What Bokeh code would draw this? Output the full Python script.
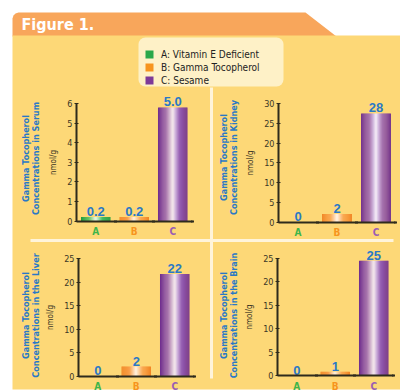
import numpy as np
from bokeh.plotting import figure
from bokeh.models import Range1d, LinearAxis, FixedTicker, ColumnDataSource, Legend, LegendItem
from bokeh.core.properties import value
from bokeh.embed import file_html
from bokeh.resources import INLINE

# ---------------- data ----------------
categories = ["A", "B", "C"]
legend_labels = ["A: Vitamin E Deficient", "B: Gamma Tocopherol", "C: Sesame"]

serum_values = [0.2, 0.2, 5.8]
serum_labels = ["0.2", "0.2", "5.0"]
serum_ticks = [0, 1, 2, 3, 4, 5, 6]

kidney_values = [0, 2, 27.5]
kidney_labels = ["0", "2", "28"]
kidney_ticks = [0, 5, 10, 15, 20, 25, 30]

liver_values = [0, 2, 21.7]
liver_labels = ["0", "2", "22"]
liver_ticks = [0, 5, 10, 15, 20, 25]

brain_values = [0, 0.8, 24.5]
brain_labels = ["0", "1", "25"]
brain_ticks = [0, 5, 10, 15, 20, 25]

title_line1 = "Gamma Tocopherol"
serum_title = "Concentrations in Serum"
kidney_title = "Concentrations in Kidney"
liver_title = "Concentrations in the Liver"
brain_title = "Concentrations in the Brain"
unit_label = "nmol/g"
figure_title = "Figure 1."

# ---------------- styles ----------------
W, H = 400, 391
NARROW = "'Liberation Sans Narrow', 'DejaVu Sans Condensed', 'Roboto Condensed', sans-serif"
SANS = "'Liberation Sans', Arial, sans-serif"
YELLOW = "#FDD877"
ORANGE_TAB = "#F8A65B"
LEGEND_BG = "#FEF1C7"
DIVIDER = "#FFF4DA"
BLUE = "#2A78C6"
AXIS = "#2E2B1C"
cat_colors = ["#2BA84A", "#F7941D", "#7E3A98"]
label_colors = ["#3DB54A", "#F7941D", "#9A5DB5"]
edge_colors = ["#1E9A3E", "#F28422", "#6E2C8C"]
mid_colors = ["#4CBF62", "#F9A24A", "#9A64B6"]
center_colors = ["#F0FAEE", "#FFF4E6", "#F6EEF8"]


def hex2rgb(h):
    h = h.lstrip("#")
    return np.array([int(h[i:i + 2], 16) for i in (0, 2, 4)], dtype=float)


def rgb2hex(c):
    c = np.clip(np.round(c), 0, 255).astype(int)
    return "#%02x%02x%02x" % tuple(c)


def stripe_color(ci, t):
    # t: 0 at centre, 1 at edge
    e, m, c = hex2rgb(edge_colors[ci]), hex2rgb(mid_colors[ci]), hex2rgb(center_colors[ci])
    if t < 0.45:
        f = t / 0.45
        return rgb2hex(c * (1 - f) + m * f)
    f = (t - 0.45) / 0.55
    return rgb2hex(m * (1 - f) + e * f)


p = figure(width=W, height=H, x_range=Range1d(0, W), y_range=Range1d(H, 0),
           output_backend="svg", toolbar_location=None, min_border=0,
           x_axis_type=None, y_axis_type=None)
p.outline_line_color = None
p.background_fill_color = "white"
p.border_fill_color = "white"
p.xgrid.visible = False
p.ygrid.visible = False

# ---------------- decoration ----------------
p.patch(x=[12, 12, 13, 15, 18, 305, 336, 12], y=[36, 18, 15, 13, 12, 12, 36, 36],
        fill_color=ORANGE_TAB, line_color=None)
p.quad(left=[12], right=[400], top=[35], bottom=[389], fill_color=YELLOW, line_color=None)
p.text(x=[21], y=[24], text=[figure_title], text_color="white", text_font=value(NARROW),
       text_font_style="bold", text_font_size="16px", text_baseline="middle", text_align="left")
p.quad(left=[138], right=[283], top=[37], bottom=[86], fill_color=LEGEND_BG, line_color=None,
       border_radius=7)
p.segment(x0=[211, 30], y0=[87, 240], x1=[211, 393], y1=[378, 240],
          line_color=DIVIDER, line_width=3)

# ---------------- panels ----------------
panels = [
    dict(name="serum", values=serum_values, labels=serum_labels, ticks=serum_ticks,
         title=serum_title, X0=76, U=38.5, Y0=220.5, Ytop=103, tx=(25, 35), ty=158),
    dict(name="kidney", values=kidney_values, labels=kidney_labels, ticks=kidney_ticks,
         title=kidney_title, X0=278, U=39, Y0=221.5, Ytop=103, tx=(223, 233), ty=157),
    dict(name="liver", values=liver_values, labels=liver_labels, ticks=liver_ticks,
         title=liver_title, X0=78, U=38.5, Y0=375.5, Ytop=258, tx=(25, 35), ty=315),
    dict(name="brain", values=brain_values, labels=brain_labels, ticks=brain_ticks,
         title=brain_title, X0=277, U=38.5, Y0=375, Ytop=258, tx=(223, 233), ty=315),
]

N_STRIPES = 28
BAR_W = 0.76
cat_pos = np.arange(len(categories)) + 0.5

for pn in panels:
    xn, yn = "x_" + pn["name"], "y_" + pn["name"]
    ymax = pn["ticks"][-1]
    k = ymax / (pn["Y0"] - pn["Ytop"])
    ys = -k * (H - pn["Y0"])
    p.extra_y_ranges[yn] = Range1d(ys, ys + k * H)
    p.extra_x_ranges[xn] = Range1d(-pn["X0"] / pn["U"], (W - pn["X0"]) / pn["U"])

    # gradient (cylinder) bars made of narrow stripes
    xs, tops, cols = [], [], []
    offs = (np.arange(N_STRIPES) + 0.5) / N_STRIPES * BAR_W - BAR_W / 2
    for ci, (cx, v) in enumerate(zip(cat_pos, pn["values"])):
        if v <= 0:
            continue
        for o in offs:
            xs.append(cx + o)
            tops.append(v)
            cols.append(stripe_color(ci, abs(o) / (BAR_W / 2)))
    src = ColumnDataSource(dict(x=xs, top=tops, color=cols))
    p.vbar(x="x", top="top", bottom=0, width=BAR_W / N_STRIPES * 1.25, fill_color="color",
           line_color=None, source=src, x_range_name=xn, y_range_name=yn)

    # y axis
    ya = LinearAxis(x_range_name=xn, y_range_name=yn, fixed_location=0, bounds=(0, ymax),
                    ticker=FixedTicker(ticks=pn["ticks"]), axis_label=unit_label)
    ya.axis_line_color = AXIS
    ya.axis_line_width = 2
    ya.major_tick_line_color = AXIS
    ya.major_tick_in = 2
    ya.major_tick_out = 2
    ya.minor_tick_line_color = None
    ya.major_label_text_font = NARROW
    ya.major_label_text_font_size = "9px"
    ya.major_label_text_color = "#3A3626"
    ya.major_label_standoff = 2
    ya.axis_label_text_font = NARROW
    ya.axis_label_text_font_size = "8px"
    ya.axis_label_text_font_style = "normal"
    ya.axis_label_text_color = "#3A3626"
    ya.axis_label_standoff = 6
    p.add_layout(ya, "left")

    # x axis
    xa = LinearAxis(x_range_name=xn, y_range_name=yn, fixed_location=0, bounds=(0, 3),
                    ticker=FixedTicker(ticks=[1, 2, 3]),
                    major_label_overrides={1: "", 2: "", 3: ""})
    xa.axis_line_color = AXIS
    xa.axis_line_width = 2
    xa.major_tick_line_color = AXIS
    xa.major_tick_line_width = 3
    xa.major_tick_in = 1
    xa.major_tick_out = 1
    xa.minor_tick_line_color = None
    xa.major_label_text_font_size = "0px"
    p.add_layout(xa, "below")

    # category labels
    p.text(x=cat_pos, y=[0] * len(categories), text=categories, text_color=label_colors,
           text_align="center", text_baseline="top", y_offset=5, text_font=value(NARROW),
           text_font_size="10px", text_font_style="bold", x_range_name=xn, y_range_name=yn)

    # value labels
    p.text(x=cat_pos, y=pn["values"], text=pn["labels"], text_color=BLUE,
           text_align="center", text_baseline="bottom", y_offset=-1, text_font=value(SANS),
           text_font_size="13px", text_font_style="bold", x_range_name=xn, y_range_name=yn)

    # title (two rotated lines)
    p.text(x=list(pn["tx"]), y=[pn["ty"]] * 2, text=[title_line1, pn["title"]], angle=np.pi / 2,
           text_color=BLUE, text_align="center", text_baseline="middle", text_font=value(NARROW),
           text_font_size="9px", text_font_style="bold")

# ---------------- legend ----------------
items = []
for lab, c in zip(legend_labels, cat_colors):
    # legend swatch renderer (kept outside the visible frame)
    r = p.quad(left=[-60], right=[-50], top=[-60], bottom=[-50], fill_color=c, line_color=None)
    items.append(LegendItem(label=lab, renderers=[r]))
legend = Legend(items=items, location=(144, H - 86), margin=0, padding=6, spacing=1,
                glyph_width=10, glyph_height=10, label_standoff=7, label_height=12,
                label_text_font=NARROW, label_text_font_size="10px", label_text_color="#222222",
                background_fill_alpha=0, border_line_color=None)
p.add_layout(legend, "center")

open("out.html", "w").write(file_html(p, INLINE))
